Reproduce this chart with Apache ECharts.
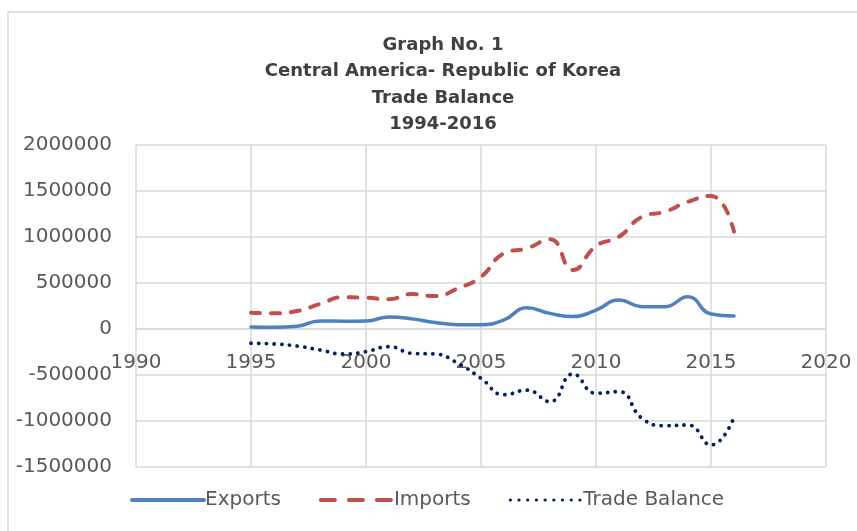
<!DOCTYPE html>
<html>
<head>
<meta charset="utf-8">
<script src="https://cdn.jsdelivr.net/npm/echarts@6/dist/echarts.min.js"></script>
<style>
html,body{margin:0;padding:0;background:#fff;}
#chart{width:857px;height:531px;}
</style>
</head>
<body>
<div id="chart"></div>
<script>
var years = [1995,1996,1997,1998,1999,2000,2001,2002,2003,2004,2005,2006,2007,2008,2009,2010,2011,2012,2013,2014,2015,2016];
var exportsVals = [22000,20000,30000,87000,85000,87000,130000,110000,70000,47000,47000,100000,230000,170000,135000,205000,315000,243000,243000,350000,163000,141000];
var importsVals = [177000,170000,195000,272000,345000,340000,323000,380000,358000,442000,568000,823000,877000,975000,641000,902000,1003000,1220000,1275000,1384000,1446000,1058000];
var balanceVals = [-155000,-163000,-185000,-228000,-272000,-246000,-192000,-264000,-272000,-373000,-536000,-714000,-665000,-790000,-489000,-699000,-681000,-971000,-1051000,-1043000,-1261000,-960000];
var titleLines = ['Graph No. 1','Central America- Republic of Korea','Trade Balance','1994-2016'];
var seriesNames = ['Exports','Imports','Trade Balance'];

function pairs(vals){ return years.map(function(y,i){ return [y, vals[i]]; }); }

var FONT = 'DejaVu Sans';
var chart = echarts.init(document.getElementById('chart'), null, {renderer:'canvas'});
chart.setOption({
  animation:false,
  backgroundColor:'#fff',
  graphic:[{type:'rect',shape:{x:8,y:12,width:900,height:600},style:{fill:'none',stroke:'#d9d9d9',lineWidth:1.5},silent:true}],
  title:{
    text:titleLines.join('\n'),
    left:438, textAlign:'center', top:27,
    textStyle:{fontFamily:FONT,fontSize:18,fontWeight:'bold',color:'#404040',lineHeight:26.5}
  },
  legend:{
    left:125, top:485,
    itemWidth:72, itemHeight:14, itemGap:38,
    itemStyle:{opacity:0},
    lineStyle:{width:4},
    textStyle:{fontFamily:FONT,fontSize:20,color:'#595959',padding:[0,0,0,-4]},
    data:[
      {name:seriesNames[0]},
      {name:seriesNames[1],lineStyle:{width:4,type:[14,14],cap:'round'}},
      {name:seriesNames[2],lineStyle:{width:3.2,type:[0.1,8.6],cap:'round'}}
    ]
  },
  grid:{left:136,right:31,top:145,bottom:64,containLabel:false},
  xAxis:{
    type:'value',min:1990,max:2020,interval:5,
    offset:-138,
    axisLine:{show:true,onZero:false,lineStyle:{color:'#d9d9d9',width:1.5}},
    axisTick:{show:false},
    axisLabel:{margin:24,color:'#595959',fontFamily:FONT,fontSize:20,formatter:function(v){return String(v);}},
    splitLine:{show:true,lineStyle:{color:'#d9d9d9',width:1.5}}
  },
  yAxis:{
    type:'value',min:-1500000,max:2000000,interval:500000,
    axisLine:{show:false},axisTick:{show:false},
    axisLabel:{margin:24,color:'#595959',fontFamily:FONT,fontSize:20,formatter:function(v){return String(v);}},
    splitLine:{show:true,lineStyle:{color:'#d9d9d9',width:1.5}}
  },
  series:[
    {name:seriesNames[0],type:'line',data:pairs(exportsVals),smooth:0.5,showSymbol:false,symbol:'none',
     lineStyle:{color:'#4F81BD',width:3.5,cap:'round'},itemStyle:{color:'#4F81BD'}},
    {name:seriesNames[1],type:'line',data:pairs(importsVals),smooth:0.5,showSymbol:false,symbol:'none',
     lineStyle:{color:'#C0504D',width:4,type:[9,11],cap:'round'},itemStyle:{color:'#C0504D'}},
    {name:seriesNames[2],type:'line',data:pairs(balanceVals),smooth:0.5,showSymbol:false,symbol:'none',
     lineStyle:{color:'#002060',width:3.8,type:[0.1,7.6],cap:'round'},itemStyle:{color:'#002060'}}
  ]
});
</script>
</body>
</html>
